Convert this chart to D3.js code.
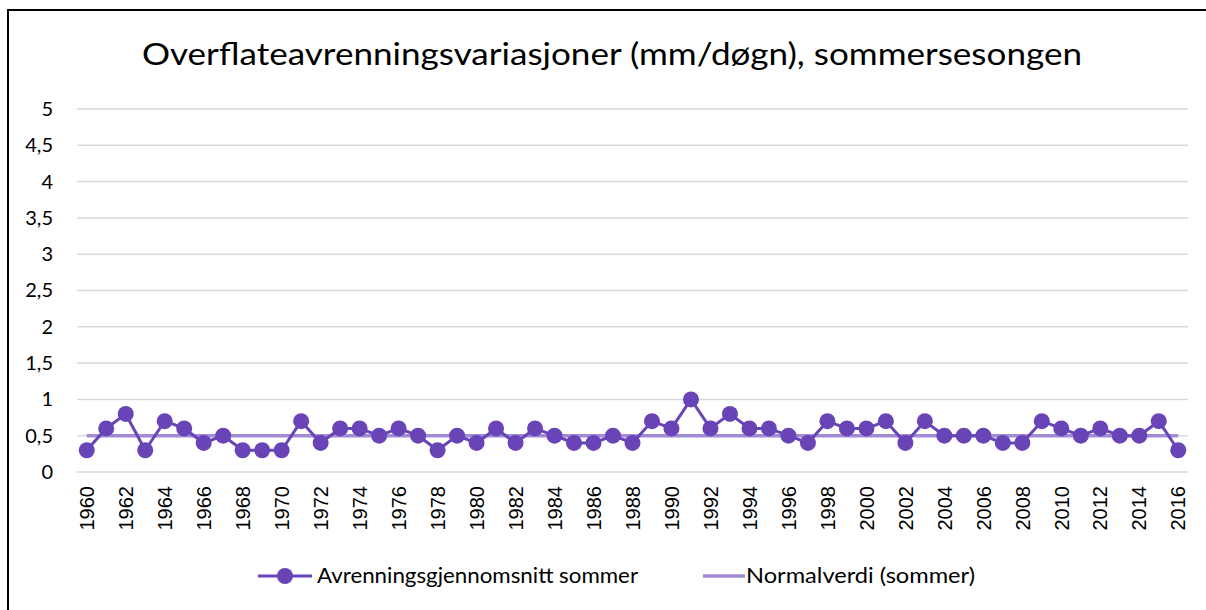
<!DOCTYPE html>
<html>
<head>
<meta charset="utf-8">
<script src="https://cdn.jsdelivr.net/npm/d3@7"></script>
<style>
  html, body { margin: 0; padding: 0; background: #fff; overflow: hidden; }
  svg { display: block; overflow: hidden; }
  text { font-family: Lato, "Open Sans", sans-serif; fill: #000; }
</style>
</head>
<body>
<svg id="chart" width="1206" height="610"></svg>
<script>
// Summer runoff averages per year (mm/døgn)
const years = d3.range(1960, 2017);
const summerAvg = [
  0.3, 0.6, 0.8, 0.3, 0.7, 0.6, 0.4, 0.5, 0.3, 0.3,
  0.3, 0.7, 0.4, 0.6, 0.6, 0.5, 0.6, 0.5, 0.3, 0.5,
  0.4, 0.6, 0.4, 0.6, 0.5, 0.4, 0.4, 0.5, 0.4, 0.7,
  0.6, 1.0, 0.6, 0.8, 0.6, 0.6, 0.5, 0.4, 0.7, 0.6,
  0.6, 0.7, 0.4, 0.7, 0.5, 0.5, 0.5, 0.4, 0.4, 0.7,
  0.6, 0.5, 0.6, 0.5, 0.5, 0.7, 0.3
];
const normalValue = 0.5;
const yTicks = [0, 0.5, 1, 1.5, 2, 2.5, 3, 3.5, 4, 4.5, 5];
const yTickLabels = ["0", "0,5", "1", "1,5", "2", "2,5", "3", "3,5", "4", "4,5", "5"];
const titleText = "Overflateavrenningsvariasjoner (mm/døgn), sommersesongen";
const legendLabels = ["Avrenningsgjennomsnitt sommer", "Normalverdi (sommer)"];

const seriesColor = "#6944b6";
const normalColor = "#a28bd6";

const svg = d3.select("#chart");

// Outer frame: only the left and top edges fall inside the canvas
svg.append("path")
  .attr("d", "M8,620 V10 H1220")
  .attr("fill", "none").attr("stroke", "#000").attr("stroke-width", 2);

const plot = { left: 77, right: 1188, top: 109, bottom: 472 };

const x = d3.scaleBand().domain(years).range([plot.left, plot.right]);
const y = d3.scaleLinear().domain([0, 5]).range([plot.bottom, plot.top]);
const cx = yr => x(yr) + x.bandwidth() / 2;

// Title
svg.append("text")
  .attr("x", 142).attr("y", 65)
  .attr("textLength", 940).attr("lengthAdjust", "spacingAndGlyphs")
  .style("font-size", "30px")
  .text(titleText);

// Horizontal gridlines
svg.append("g").selectAll("line").data(yTicks).join("line")
  .attr("x1", plot.left).attr("x2", plot.right)
  .attr("y1", d => y(d)).attr("y2", d => y(d))
  .attr("stroke", "#d9d9d9").attr("stroke-width", 1.5);

// Y axis labels
const yAxis = d3.axisLeft(y).tickValues(yTicks)
  .tickFormat((d, i) => yTickLabels[i]).tickSize(0).tickPadding(0);
const gy = svg.append("g").attr("transform", `translate(53,0)`).call(yAxis);
gy.select(".domain").remove();
gy.selectAll("text").style("font-size", "20px").style("font-family", "Lato, sans-serif").attr("fill", "#000");

// X axis labels (every second year), rotated
const xAxis = d3.axisBottom(x).tickValues(years.filter(yr => (yr - 1960) % 2 === 0))
  .tickSize(0).tickPadding(0);
const gx = svg.append("g").attr("transform", `translate(0,${plot.bottom})`).call(xAxis);
gx.select(".domain").remove();
gx.selectAll("text")
  .style("font-size", "20px")
  .style("font-family", "'Liberation Sans', Arial, sans-serif")
  .attr("fill", "#000")
  .attr("transform", "rotate(-90)")
  .attr("text-anchor", "end")
  .attr("x", -14).attr("y", 0).attr("dy", "0.36em");

// Normal value line
svg.append("line")
  .attr("x1", cx(years[0])).attr("x2", cx(years[years.length - 1]))
  .attr("y1", y(normalValue)).attr("y2", y(normalValue))
  .attr("stroke", normalColor).attr("stroke-width", 3.5);

// Summer average series
const line = d3.line().x((d, i) => cx(years[i])).y(d => y(d));
svg.append("path")
  .datum(summerAvg)
  .attr("d", line)
  .attr("fill", "none").attr("stroke", seriesColor).attr("stroke-width", 3);

svg.append("g").selectAll("circle").data(summerAvg).join("circle")
  .attr("cx", (d, i) => cx(years[i])).attr("cy", d => y(d))
  .attr("r", 8).attr("fill", seriesColor);

// Legend
const lg = svg.append("g");
lg.append("line").attr("x1", 258).attr("x2", 312).attr("y1", 576).attr("y2", 576)
  .attr("stroke", seriesColor).attr("stroke-width", 3);
lg.append("circle").attr("cx", 285).attr("cy", 576).attr("r", 8).attr("fill", seriesColor);
lg.append("text").attr("x", 317).attr("y", 583)
  .attr("textLength", 321).attr("lengthAdjust", "spacingAndGlyphs")
  .style("font-size", "21px").text(legendLabels[0]);

lg.append("line").attr("x1", 703).attr("x2", 745).attr("y1", 576).attr("y2", 576)
  .attr("stroke", normalColor).attr("stroke-width", 3.5);
lg.append("text").attr("x", 746).attr("y", 583)
  .attr("textLength", 229).attr("lengthAdjust", "spacingAndGlyphs")
  .style("font-size", "21px").text(legendLabels[1]);
</script>
</body>
</html>
